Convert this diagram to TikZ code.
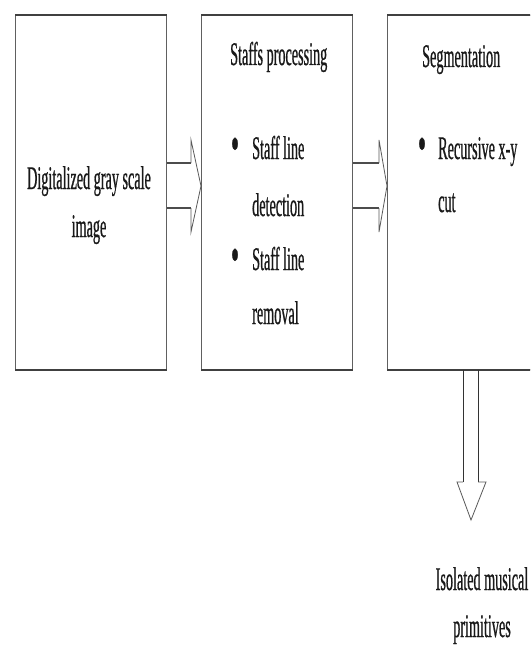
\documentclass[tikz,border=0pt]{standalone}
\usepackage{fontspec}
\setmainfont[FakeStretch=0.43,FakeBold=0.6]{Liberation Serif}
\begin{document}
\begin{tikzpicture}[x=1pt,y=-1pt,
  box/.style={draw=gray!75!black, line width=0.9pt, minimum height=354pt, anchor=north west, inner sep=0pt},
  edgeline/.style={draw=black!75, line width=2.2pt},
  shaft/.style={draw=gray!60!black, line width=2.4pt},
  headline/.style={draw=gray!70!black, line width=0.8pt, line join=miter},
  thinline/.style={draw=black!80, line width=0.9pt, line join=miter},
  txt/.style={font=\fontsize{33}{40}\selectfont, inner sep=0pt, anchor=base, text=black!90},
  bullet/.style={font=\fontsize{52}{60}\selectfont, inner sep=0pt, anchor=base, text=black!90}]
\useasboundingbox (0,0) rectangle (530,650);
\fill[white] (0,0) rectangle (530,650);
\clip (0,0) rectangle (530,650);
% boxes
\node[box, minimum width=151pt] (b1) at (15,15) {};
\node[box, minimum width=151pt] (b2) at (201,15) {};
\node[box, minimum width=160pt] (b3) at (387,15) {};
\foreach \b in {b1,b2,b3}{
  \draw[edgeline] (\b.north west) -- (\b.north east);
  \draw[edgeline] (\b.south west) -- (\b.south east);
}
% arrow 1
\draw[shaft] (b1.east |- 0,163) -- (191,163);
\draw[shaft] (b1.east |- 0,208) -- (191,208);
\draw[headline] (191,163) -- (191,140) -- (b2.west |- 0,186) -- (191,232) -- (191,208);
% arrow 2
\draw[shaft] (b2.east |- 0,163) -- (379,163);
\draw[shaft] (b2.east |- 0,208) -- (379,208);
\draw[headline] (379,163) -- (379,140) -- (b3.west |- 0,186) -- (379,232) -- (379,208);
% arrow 3 (down)
\draw[thinline] (b3.south -| 463,0) -- (463,482);
\draw[thinline] (b3.south -| 478,0) -- (478,482);
\draw[headline] (463,482) -- (457,482) -- (471,520) -- (486,482) -- (478,482);
% texts
\node[txt] (t1a) at (89,189) {Digitalized gray scale};
\node[txt] (t1b) at (89,237) {image};
\node[txt, anchor=base west] (t2h) at (230,65) {Staffs processing};
\node[bullet] (bu1) at (235,161) {\textbullet};
\node[txt, anchor=base west] (t2a) at (252,159) {Staff line};
\node[txt, anchor=base west] (t2b) at (252,216) {detection};
\node[bullet] (bu2) at (235,272) {\textbullet};
\node[txt, anchor=base west] (t2c) at (252,270) {Staff line};
\node[txt, anchor=base west] (t2d) at (252,324) {removal};
\node[txt, anchor=base west] (t3h) at (422,67) {Segmentation};
\node[bullet] (bu3) at (422,161) {\textbullet};
\node[txt, anchor=base west] (t3a) at (438,159) {Recursive x-y};
\node[txt, anchor=base west] (t3b) at (438,212) {cut};
\node[txt] (t4a) at (482,590) {Isolated musical};
\node[txt] (t4b) at (482,637) {primitives};
\end{tikzpicture}
\end{document}
